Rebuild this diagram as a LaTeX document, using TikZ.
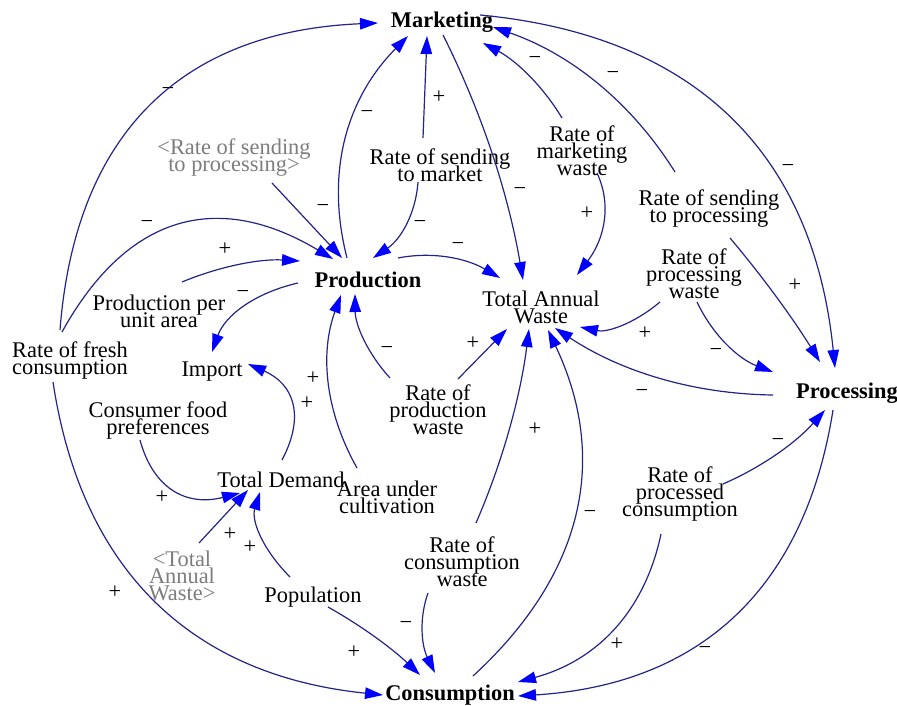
\documentclass[tikz,border=0pt]{standalone}
\usepackage{fontspec}
\setmainfont{Liberation Serif}
\usetikzlibrary{arrows.meta}
\definecolor{linec}{RGB}{35,35,140}
\definecolor{tipc}{RGB}{0,0,255}
\definecolor{grayt}{RGB}{125,125,125}
\newcommand\vsfont{\fontsize{22.4}{17}\selectfont\lineskiplimit=-50pt\relax}
\begin{document}
\begin{tikzpicture}[x=1pt,y=-1pt,
  lbl/.style={inner sep=0pt, align=center, font=\vsfont},
  main/.style={inner sep=0pt, align=center, font=\vsfont\bfseries},
  ghost/.style={lbl, text=grayt},
  sgn/.style={inner sep=0pt, font=\vsfont},
  link/.style={draw=linec, line width=1.2pt, -{Triangle[length=18pt,width=11.5pt,color=tipc]}},
]
\useasboundingbox (0,0) rectangle (897,706);
% nodes
\node[main] (mkt)  at (442,22)  {Marketing};
\node[main] (prod) at (368,280) {Production};
\node[main] (proc) at (847,393) {Processing};
\node[main] (cons) at (450,695) {Consumption};
\node[lbl] (taw)  at (541,307)   {Total Annual\\Waste};
\node[lbl] (rsm)  at (440,165.5) {Rate of sending\\to market};
\node[lbl] (rmw)  at (582,150.5) {Rate of\\marketing\\waste};
\node[lbl] (rsp)  at (709,208.5) {Rate of sending\\to processing};
\node[ghost] (rspg) at (234,157.5) {<Rate of sending\\to processing>};
\node[lbl] (rpw)  at (694,273.5) {Rate of\\processing\\waste};
\node[lbl] (ppua) at (159,311)   {Production per\\unit area};
\node[lbl] (rfc)  at (70,360)    {Rate of fresh\\consumption};
\node[lbl] (imp)  at (212,372)   {Import};
\node[lbl] (cfp)  at (158,420)   {Consumer food\\preferences};
\node[lbl] (td)   at (281,480)   {Total Demand};
\node[lbl] (auc)  at (387,497.5) {Area under\\cultivation};
\node[lbl] (rprw) at (438,410)   {Rate of\\production\\waste};
\node[lbl] (rcw)  at (462,562)   {Rate of\\consumption\\waste};
\node[lbl] (rpc)  at (680,493.5) {Rate of\\processed\\consumption};
\node[ghost] (tawg) at (182,576) {<Total\\Annual\\Waste>};
\node[lbl] (pop)  at (313,597)   {Population};
% connectors
\draw[link] ([shift={(-10,-30)}]rfc.center) .. controls (75.3,133.7) and (181.3,31.3) .. ([shift={(-64,1)}]mkt.center);
\draw[link] ([shift={(-8,-28)}]rfc.center) .. controls (127.1,214.3) and (217.5,190) .. ([shift={(-35,-21)}]prod.center);
\draw[link] ([shift={(-17,22)}]rfc.center) .. controls (81.7,571) and (191.7,675.3) .. ([shift={(-67,0)}]cons.center);
\draw[link] ([shift={(23,-29)}]ppua.center) .. controls (221.3,265.7) and (260.7,258.7) .. ([shift={(-68,-19)}]prod.center);
\draw[link] ([shift={(-70,3)}]prod.center) .. controls (253.3,293.3) and (224.7,316.3) .. ([shift={(0,-20)}]imp.center);
\draw[link] ([shift={(38,25.5)}]rspg.center) -- ([shift={(-26,-22)}]prod.center);
\draw[link] ([shift={(-21,-22)}]prod.center) .. controls (325.3,173.3) and (345.7,99.3) .. ([shift={(-34,14)}]mkt.center);
\draw[link] ([shift={(-17,-27.5)}]rsm.center) -- ([shift={(-15,14)}]mkt.center);
\draw[link] ([shift={(-22,16.5)}]rsm.center) .. controls (415.7,214) and (400.7,239.3) .. ([shift={(5,-22)}]prod.center);
\draw[link] ([shift={(30,-22)}]prod.center) .. controls (432,251.3) and (466,258) .. ([shift={(-41,-29)}]taw.center);
\draw[link] ([shift={(1,13)}]mkt.center) .. controls (481.7,112) and (508.3,193.7) .. ([shift={(-18,-27)}]taw.center);
\draw[link] ([shift={(-20,-32.5)}]rmw.center) .. controls (542.6,85.8) and (516.3,60.8) .. ([shift={(41,21)}]mkt.center);
\draw[link] ([shift={(15,22.5)}]rmw.center) .. controls (611.7,204.3) and (605,238.3) .. ([shift={(36,-32)}]taw.center);
\draw[link] ([shift={(-34,-36.5)}]rsp.center) .. controls (631.4,102.3) and (570.7,54) .. ([shift={(51,5)}]mkt.center);
\draw[link] ([shift={(38,-7)}]mkt.center) .. controls (695,35.3) and (813.3,153) .. ([shift={(-12,-25)}]proc.center);
\draw[link] ([shift={(21,29.5)}]rsp.center) .. controls (762.7,276.7) and (792.7,318) .. ([shift={(-27,-31)}]proc.center);
\draw[link] ([shift={(-34,28.5)}]rpw.center) .. controls (633.3,324.3) and (606.7,332.7) .. ([shift={(39,20)}]taw.center);
\draw[link] ([shift={(3,28.5)}]rpw.center) .. controls (713,335.5) and (738.3,358.8) .. ([shift={(-74,-21)}]proc.center);
\draw[link] ([shift={(-74,2)}]proc.center) .. controls (693.7,394) and (621,371.7) .. ([shift={(14,21)}]taw.center);
\draw[link] ([shift={(20,-31)}]rprw.center) -- ([shift={(-34,22)}]taw.center);
\draw[link] ([shift={(-48,-32)}]rprw.center) .. controls (367,352.7) and (355.3,324.7) .. ([shift={(-13,14)}]prod.center);
\draw[link] ([shift={(-30,-29.5)}]auc.center) .. controls (325,411) and (319.7,353.3) .. ([shift={(-27,15)}]prod.center);
\draw[link] ([shift={(1,-20)}]td.center) .. controls (305.3,416) and (294,384) .. ([shift={(36,-8)}]imp.center);
\draw[link] ([shift={(-18,20)}]cfp.center) .. controls (153.3,489) and (186.7,506.7) .. ([shift={(-41,13)}]td.center);
\draw[link] ([shift={(17,-33)}]tawg.center) -- ([shift={(-33,10)}]td.center);
\draw[link] ([shift={(-23,-20)}]pop.center) .. controls (261.3,548) and (251.3,519.7) .. ([shift={(-21,12)}]td.center);
\draw[link] ([shift={(15,10)}]pop.center) .. controls (361.3,625.7) and (392,648.3) .. ([shift={(-30,-20)}]cons.center);
\draw[link] ([shift={(-34,31)}]rcw.center) .. controls (419,618.3) and (421.3,645) .. ([shift={(-15,-22)}]cons.center);
\draw[link] ([shift={(14,-39)}]rcw.center) .. controls (502.9,460.9) and (520.5,396.2) .. ([shift={(-12,22)}]taw.center);
\draw[link] ([shift={(23,-19)}]cons.center) .. controls (584,574) and (609,458.7) .. ([shift={(7,23)}]taw.center);
\draw[link] ([shift={(43,-9.5)}]rpc.center) .. controls (762.3,466.9) and (796.3,442.3) .. ([shift={(-22,17)}]proc.center);
\draw[link] ([shift={(-19,40.5)}]rpc.center) .. controls (644.7,611.3) and (597,660.7) .. ([shift={(68,-13)}]cons.center);
\draw[link] ([shift={(-14,17)}]proc.center) .. controls (804.7,589.3) and (699.7,684.7) .. ([shift={(68,1)}]cons.center);
% polarity signs
\node[sgn] (s1)  at (168,92)  {−};
\node[sgn] (s2)  at (147,225) {−};
\node[sgn] (s3)  at (115,592) {+};
\node[sgn] (s4)  at (225,249) {+};
\node[sgn] (s5)  at (243,295) {−};
\node[sgn] (s6)  at (323,209) {−};
\node[sgn] (s7)  at (367,115) {−};
\node[sgn] (s8)  at (439,97)  {+};
\node[sgn] (s9)  at (420,225) {−};
\node[sgn] (s10) at (458,247) {−};
\node[sgn] (s11) at (520,192) {−};
\node[sgn] (s12) at (535,61)  {−};
\node[sgn] (s13) at (587,213) {+};
\node[sgn] (s14) at (613,76)  {−};
\node[sgn] (s15) at (788,169) {−};
\node[sgn] (s16) at (795,285) {+};
\node[sgn] (s17) at (645,333) {+};
\node[sgn] (s18) at (716,353) {−};
\node[sgn] (s19) at (642,393) {−};
\node[sgn] (s20) at (473,343) {+};
\node[sgn] (s21) at (387,350) {−};
\node[sgn] (s22) at (313,378) {+};
\node[sgn] (s23) at (307,403) {+};
\node[sgn] (s24) at (162,497) {+};
\node[sgn] (s25) at (230,534) {+};
\node[sgn] (s26) at (250,547) {+};
\node[sgn] (s27) at (354,652) {+};
\node[sgn] (s28) at (406,625) {−};
\node[sgn] (s29) at (535,429) {+};
\node[sgn] (s30) at (590,514) {−};
\node[sgn] (s31) at (778,442) {−};
\node[sgn] (s32) at (617,644) {+};
\node[sgn] (s33) at (705,650) {−};
\end{tikzpicture}
\end{document}
